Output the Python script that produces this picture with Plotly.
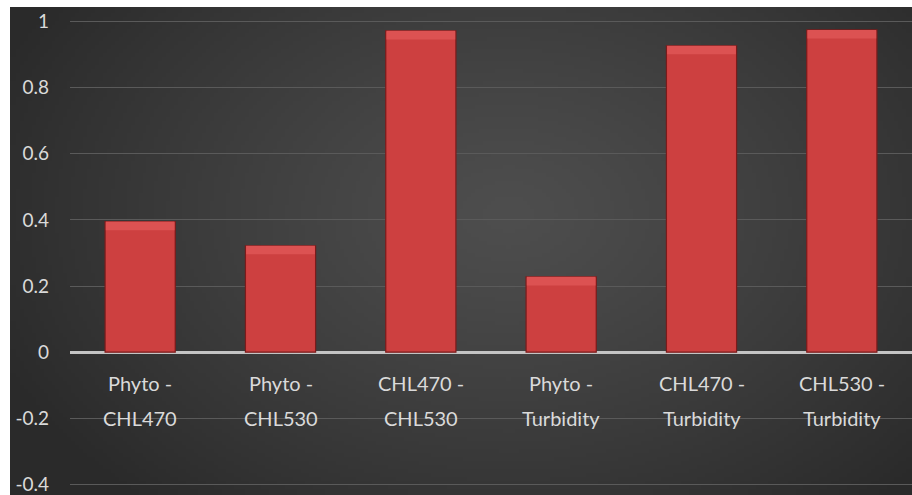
import base64
import struct
import zlib

import numpy as np
import plotly.graph_objects as go

# Correlation coefficients between sensor pairs
categories = [
    "Phyto - CHL470",
    "Phyto - CHL530",
    "CHL470 - CHL530",
    "Phyto - Turbidity",
    "CHL470 - Turbidity",
    "CHL530 - Turbidity",
]
values = [0.395, 0.322, 0.972, 0.228, 0.927, 0.975]
tick_vals = [-0.4, -0.2, 0, 0.2, 0.4, 0.6, 0.8, 1]
tick_text = ["-0.4", "-0.2", "0", "0.2", "0.4", "0.6", "0.8", "1"]

W, H = 912, 495
ML, MR, MT, MB = 70, 0, 15, 4
Y_RANGE = [-0.42, 1.02]
FONT = "Lato"
TEXT_COLOR = "#dadada"


def radial_png(w, h, inner=78, outer=42):
    """Small grey radial-gradient PNG used as the chart backdrop."""
    yy, xx = np.mgrid[0:h, 0:w]
    cx, cy = w * 0.55, h * 0.42
    d = np.sqrt(((xx - cx) / (w * 0.62)) ** 2 + ((yy - cy) / (h * 0.8)) ** 2)
    d = np.clip(d, 0, 1)
    g = (inner + (outer - inner) * d ** 1.2).astype(np.uint8)
    rgb = np.stack([g, g, g], axis=-1)
    raw = b"".join(b"\x00" + rgb[r].tobytes() for r in range(h))

    def chunk(tag, data):
        body = tag + data
        return struct.pack(">I", len(data)) + body + struct.pack(">I", zlib.crc32(body) & 0xFFFFFFFF)

    png = (
        b"\x89PNG\r\n\x1a\n"
        + chunk(b"IHDR", struct.pack(">IIBBBBB", w, h, 8, 2, 0, 0, 0))
        + chunk(b"IDAT", zlib.compress(raw, 9))
        + chunk(b"IEND", b"")
    )
    return "data:image/png;base64," + base64.b64encode(png).decode()


plot_w = W - ML - MR
plot_h = H - MT - MB
# backdrop covers everything except a thin white strip on top and left
bg_left_px, bg_top_px = 10, 7
bg_x0 = (bg_left_px - ML) / plot_w
bg_y1 = (H - MB - bg_top_px) / plot_h
bg_y0 = -MB / plot_h

fig = go.Figure()

fig.add_trace(
    go.Bar(
        x=categories,
        y=values,
        marker=dict(color="#cd4040", line=dict(color="#7a1b1b", width=1.2)),
        hoverinfo="x+y",
    )
)

# soft lighter bevel along the top of each bar
bevel = 0.026
fig.add_trace(
    go.Bar(
        x=categories,
        y=[bevel] * len(values),
        base=[v - bevel for v in values],
        width=0.49,
        marker=dict(color="#dc5252", line=dict(width=0)),
        hoverinfo="skip",
    )
)

# two-line category labels sitting just under the zero line
for cat in categories:
    first, second = cat.split(" - ")
    for text, shift in ((first + " -", -31), (second, -66)):
        fig.add_annotation(
            x=cat,
            y=0,
            xref="x",
            yref="y",
            text=text,
            showarrow=False,
            yanchor="middle",
            yshift=shift,
            font=dict(family=FONT, size=20, color=TEXT_COLOR),
        )

fig.add_layout_image(
    dict(
        source=radial_png(228, 122),
        xref="paper",
        yref="paper",
        x=bg_x0,
        y=bg_y1,
        sizex=1 - bg_x0,
        sizey=bg_y1 - bg_y0,
        xanchor="left",
        yanchor="top",
        sizing="stretch",
        layer="below",
    )
)

fig.update_layout(
    width=W,
    height=H,
    margin=dict(l=ML, r=MR, t=MT, b=MB, pad=0),
    paper_bgcolor="white",
    plot_bgcolor="rgba(0,0,0,0)",
    barmode="overlay",
    bargap=0.5,
    showlegend=False,
    font=dict(family=FONT, color=TEXT_COLOR),
    xaxis=dict(
        showticklabels=False,
        showgrid=False,
        zeroline=False,
        showline=False,
        ticks="",
        fixedrange=True,
    ),
    yaxis=dict(
        range=Y_RANGE,
        tickvals=tick_vals,
        ticktext=tick_text,
        tickfont=dict(family=FONT, size=19, color=TEXT_COLOR),
        ticklabelstandoff=20,
        ticklabeloverflow="allow",
        showgrid=True,
        gridcolor="#5a5a5a",
        gridwidth=1,
        zeroline=True,
        zerolinecolor="#c4c4c4",
        zerolinewidth=3,
        showline=False,
        ticks="",
        fixedrange=True,
    ),
)

fig.write_html("out.html")
